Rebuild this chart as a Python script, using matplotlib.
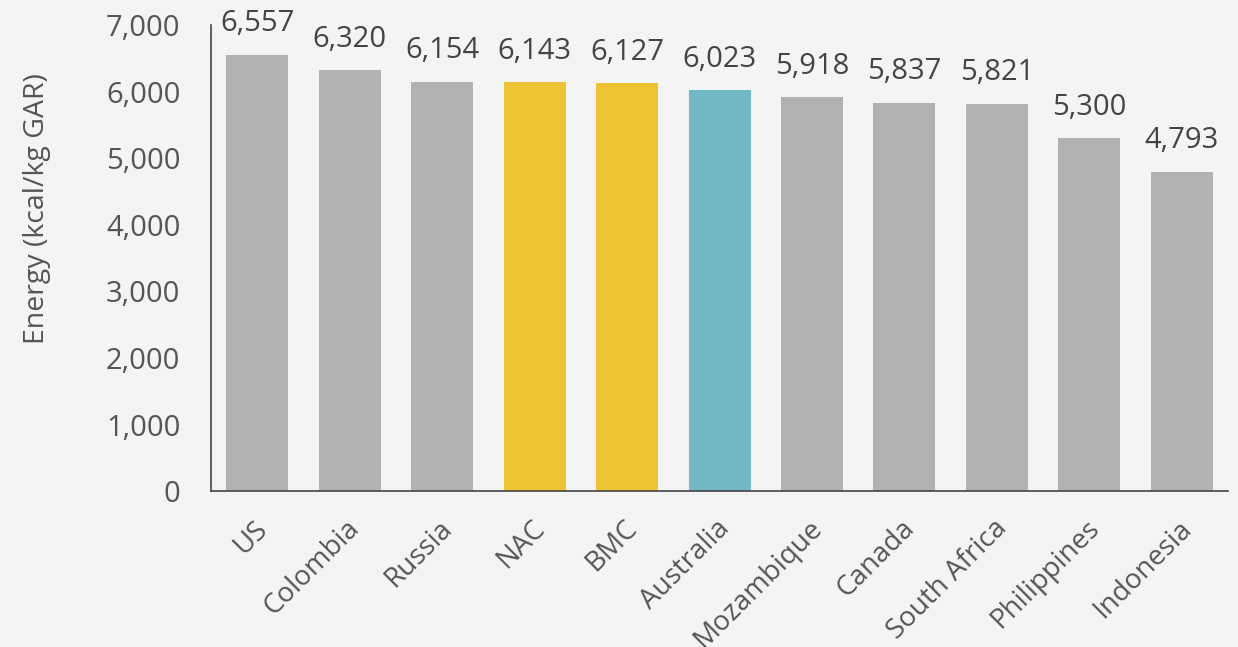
import matplotlib
matplotlib.use("Agg")
import matplotlib.pyplot as plt

countries = ["US", "Colombia", "Russia", "NAC", "BMC", "Australia",
             "Mozambique", "Canada", "South Africa", "Philippines", "Indonesia"]
energy = [6557, 6320, 6154, 6143, 6127, 6023, 5918, 5837, 5821, 5300, 4793]
highlight = ["grey", "grey", "grey", "yellow", "yellow", "teal",
             "grey", "grey", "grey", "grey", "grey"]
palette = {"grey": "#b1b2b1", "yellow": "#ebc333", "teal": "#72b8c6"}

plt.rcParams["font.family"] = ["Open Sans", "DejaVu Sans"]
bg = "#f4f4f4"

fig = plt.figure(figsize=(12.38, 6.47), dpi=100, facecolor=bg)
ax = fig.add_axes([0.1704, 0.241, 0.8216, 0.72], facecolor=bg)

x = range(len(countries))
ax.bar(x, energy, width=0.67, color=[palette[h] for h in highlight])

for xi, v in zip(x, energy):
    ax.annotate(f"{v:,}", (xi, v), xytext=(0, 12), textcoords="offset points",
                ha="center", va="bottom", fontsize=21, color="#444444")

ax.set_xlim(-0.5, len(countries) - 0.5)
ax.set_ylim(0, 7000)
ax.set_yticks(range(0, 7001, 1000))
ax.set_yticklabels([f"{t:,}" for t in range(0, 7001, 1000)])
ax.tick_params(axis="y", length=0, labelsize=21, labelcolor="#555555", pad=22)
ax.tick_params(axis="x", length=0, labelsize=20, labelcolor="#555555", pad=17)
ax.set_xticks(list(x))
ax.set_xticklabels(countries, rotation=45, ha="right", rotation_mode="anchor")
for lab in ax.get_xticklabels():
    lab.set_transform(lab.get_transform() +
                      matplotlib.transforms.ScaledTranslation(-0.04, 0, fig.dpi_scale_trans))

ax.set_ylabel("Energy (kcal/kg GAR)", fontsize=20.5, color="#555555")
ax.yaxis.set_label_coords(-0.157, 0.607)

for side in ["top", "right"]:
    ax.spines[side].set_visible(False)
for side in ["left", "bottom"]:
    ax.spines[side].set_color("#444444")
    ax.spines[side].set_linewidth(1.2)

fig.savefig("out.png", dpi=100, facecolor=bg)
